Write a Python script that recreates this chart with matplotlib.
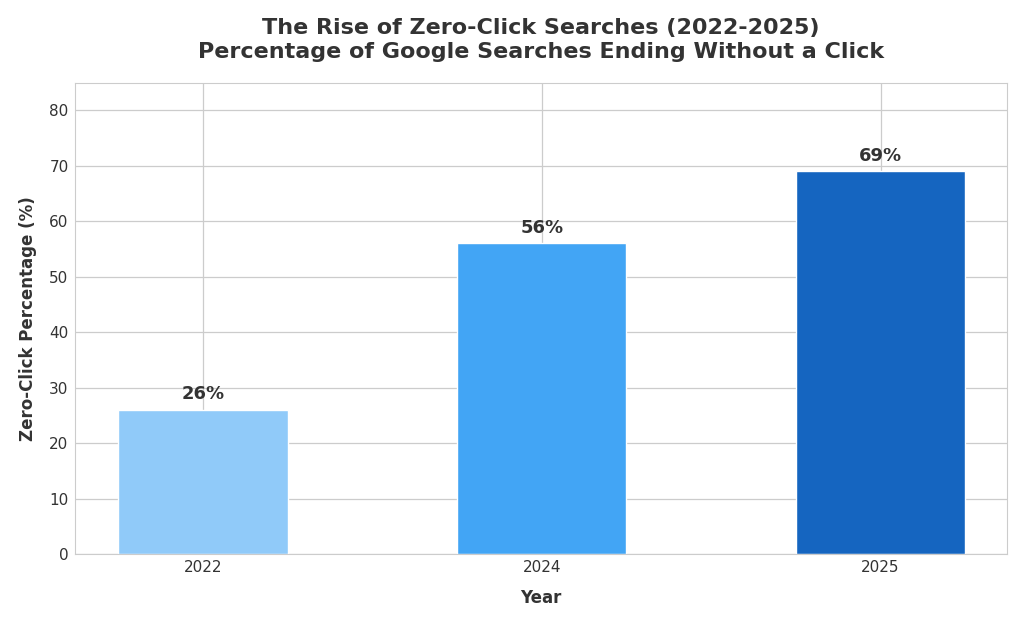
import matplotlib
matplotlib.use("Agg")
import matplotlib.pyplot as plt
import seaborn as sns

years = ["2022", "2024", "2025"]
zero_click = [26, 56, 69]
bar_colors = ["#90CAF9", "#42A5F5", "#1565C0"]

sns.set_style("whitegrid")
plt.rcParams['font.family'] = ['DejaVu Sans']

fig, ax = plt.subplots(figsize=(10.24, 6.26), dpi=100)
fig.subplots_adjust(left=0.073, right=0.983, top=0.868, bottom=0.115)

bars = ax.bar(years, zero_click, color=bar_colors, width=0.5, zorder=2)
for b, v in zip(bars, zero_click):
	ax.text(b.get_x() + b.get_width() / 2, v + 1.2, f"{v}%", ha="center", va="bottom",
		fontsize=13, fontweight="bold", color="#333333")

ax.set_ylim(0, 85)
ax.set_xlim(-0.378, 2.372)
ax.set_yticks(range(0, 81, 10))
ax.tick_params(axis="both", labelsize=11, colors="#333333", pad=1)
ax.grid(True, color="#cccccc", linewidth=0.9)
for s in ax.spines.values():
	s.set_color("#cccccc")

ax.set_xlabel("Year", fontsize=12, fontweight="bold", color="#333333", labelpad=10)
ax.set_ylabel("Zero-Click Percentage (%)", fontsize=12, fontweight="bold", color="#333333", labelpad=9)
ax.set_title("The Rise of Zero-Click Searches (2022-2025)\nPercentage of Google Searches Ending Without a Click",
	fontsize=16, fontweight="bold", color="#333333", pad=18, linespacing=1.25)

plt.savefig("out.png", dpi=100)
